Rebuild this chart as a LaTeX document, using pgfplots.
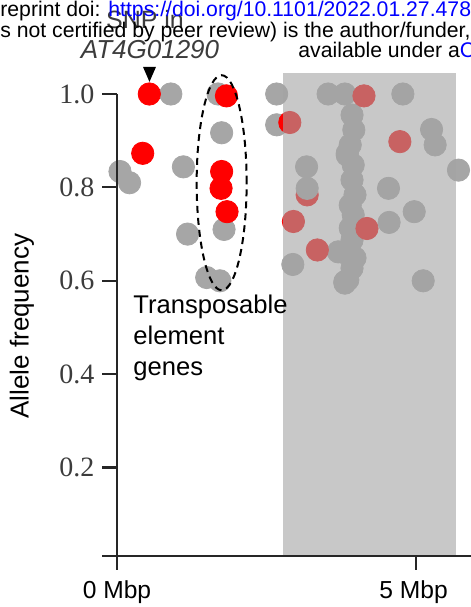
\documentclass[border=0pt]{standalone}
\usepackage{fontspec}
\setmainfont{Liberation Sans}
\newfontfamily\serifnum{Liberation Serif}
\usepackage{pgfplots}
\pgfplotsset{compat=1.18}
\definecolor{ptgrey}{RGB}{166,166,166}
\definecolor{ptred}{RGB}{255,0,0}
\definecolor{boxgrey}{RGB}{164,164,164}
\definecolor{txtgrey}{RGB}{60,60,60}
\definecolor{linkblue}{RGB}{0,0,255}

\begin{document}
\begin{tikzpicture}
\useasboundingbox (0,0) rectangle (235.5bp,303.5bp);
\clip (0,0) rectangle (235.5bp,303.5bp);
\begin{axis}[
  at={(0,0)}, anchor=south west,
  scale only axis, width=235.5bp, height=303.5bp,
  xmin=-1.9565, xmax=5.9197, ymin=-0.0985, ymax=1.2013,
  hide axis, clip=false, clip marker paths=true,
  pt/.style={only marks, mark=*, mark size=5.6pt, color=#1, mark options={solid, draw=#1, fill=#1}},
]
% red point lying under a grey one
\addplot[pt=ptred] coordinates {(3.18,0.784)};
% grey SNPs
\addplot[pt=ptgrey] coordinates {
  (0.90,1.0) (0.05,0.834) (0.21,0.81) (1.11,0.844) (1.69,1.0) (1.75,0.917)
  (1.79,0.71) (1.18,0.70) (1.50,0.607) (1.72,0.60) (2.67,1.0) (2.67,0.934)
  (3.53,1.0) (3.81,1.0) (4.78,1.0) (3.85,0.873) (5.26,0.924) (5.32,0.891)
  (5.71,0.837) (3.17,0.844) (4.54,0.798) (4.97,0.748) (3.70,0.662)
  (2.94,0.635) (5.12,0.60) (3.81,0.598)
  (3.93,0.955) (3.96,0.923) (3.90,0.891) (3.85,0.869) (3.95,0.848)
  (3.93,0.816) (3.98,0.784) (3.90,0.762) (3.95,0.741) (3.90,0.713)
  (3.93,0.687) (3.81,0.660) (3.98,0.649) (3.93,0.627) (3.86,0.602)
  (3.81,0.595)
};
% red SNPs
\addplot[pt=ptred] coordinates {
  (0.54,1.0) (0.43,0.873) (1.83,0.996) (1.75,0.834) (1.74,0.798)
  (1.84,0.748) (2.89,0.939) (4.13,0.996) (4.73,0.898) (2.95,0.727)
  (4.18,0.712) (3.35,0.666)
};
\addplot[pt=ptgrey] coordinates {(3.18,0.798) (4.55,0.725)};

% shaded region, laid over the points
\addplot[draw=none, fill=boxgrey, fill opacity=0.6]
  coordinates {(2.776,0.0107) (5.669,0.0107) (5.669,1.045) (2.776,1.045)} --cycle;

% axes
\draw[line width=1.1bp, black!85] (axis cs:0,1.0) -- (axis cs:0,-0.019);
\draw[line width=1.1bp, black!85] (axis cs:-0.25,0.0107) -- (axis cs:6.2,0.0107);
\draw[line width=1.1bp, black!85] (axis cs:5,0.0107) -- (axis cs:5,-0.019);
\draw[line width=1.1bp, black!85] (axis cs:-0.25,0.2) -- (axis cs:0,0.2);
\draw[line width=1.1bp, black!85] (axis cs:-0.25,0.4) -- (axis cs:0,0.4);
\draw[line width=1.1bp, black!85] (axis cs:-0.25,0.6) -- (axis cs:0,0.6);
\draw[line width=1.1bp, black!85] (axis cs:-0.25,0.8) -- (axis cs:0,0.8);
\draw[line width=1.1bp, black!85] (axis cs:-0.25,1.0) -- (axis cs:0,1.0);

\begin{scope}[every node/.style={font=\serifnum\fontsize{14bp}{16bp}\selectfont, text=txtgrey, anchor=east, inner sep=0pt}]
\node at (axis cs:-0.37,0.2) {0.2};
\node at (axis cs:-0.37,0.4) {0.4};
\node at (axis cs:-0.37,0.6) {0.6};
\node at (axis cs:-0.37,0.8) {0.8};
\node at (axis cs:-0.37,1.0) {1.0};
\end{scope}

\node[font=\fontsize{12.3bp}{14bp}\selectfont, inner sep=0pt] at (axis cs:0,-0.066) {0 Mbp};
\node[font=\fontsize{12.3bp}{14bp}\selectfont, inner sep=0pt] at (axis cs:4.96,-0.066) {5 Mbp};
\node[font=\fontsize{13bp}{15bp}\selectfont, rotate=90, inner sep=0pt] at (axis cs:-1.589,0.503) {Allele frequency};

% transposable element annotation
\draw[line width=1bp, dash pattern=on 3.5bp off 2.5bp] (axis cs:1.75,0.81) ellipse [x radius=12.5bp, y radius=53.75bp];
\node[font=\fontsize{12.8bp}{15.5bp}\selectfont, anchor=base west, align=left, inner sep=0pt]
  at (axis cs:0.268,0.398) {Transposable\\element\\genes};

% marked SNP
\addplot[fill=black, draw=none] coordinates {(0.435,1.058) (0.652,1.058) (0.543,1.026)} --cycle;
\node[font=\fontsize{12.5bp}{14bp}\selectfont, text=txtgrey, anchor=base, inner sep=0pt] at (axis cs:0.468,1.141) {SNP in};
\node[font=\fontsize{13bp}{14bp}\selectfont\itshape, text=txtgrey, anchor=base, inner sep=0pt] at (axis cs:0.552,1.077) {AT4G01290};

% preprint watermark
\node[font=\fontsize{10.6bp}{12bp}\selectfont, anchor=base west, inner sep=0pt] at (axis cs:-1.9565,1.165)
  {reprint doi: \textcolor{linkblue}{https://doi.org/10.1101/2022.01.27.478}};
\node[font=\fontsize{10.6bp}{12bp}\selectfont, anchor=base west, inner sep=0pt] at (axis cs:-1.9565,1.122)
  {s not certified by peer review) is the author/funder,};
\node[font=\fontsize{10.6bp}{12bp}\selectfont, anchor=base west, inner sep=0pt] at (axis cs:3.027,1.078)
  {available under a\textcolor{linkblue}{C}};
\end{axis}
\end{tikzpicture}
\end{document}
